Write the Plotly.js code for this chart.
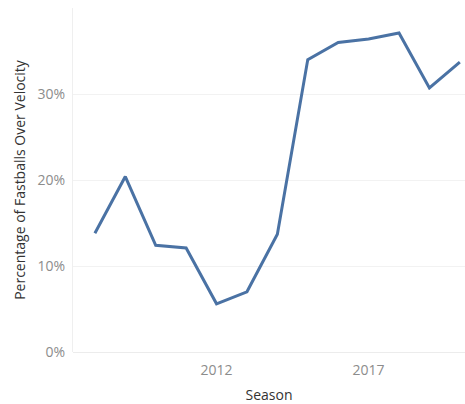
<!DOCTYPE html>
<html>
<head>
<meta charset="utf-8">
<script src="https://cdn.plot.ly/plotly-3.0.1.min.js"></script>
<style>html,body{margin:0;padding:0;background:#fff;}#chart{width:465px;height:404px;}</style>
</head>
<body>
<div id="chart"></div>
<script>
const seasons = [2008, 2009, 2010, 2011, 2012, 2013, 2014, 2015, 2016, 2017, 2018, 2019, 2020];
const pctOverVelocity = [0.138, 0.204, 0.124, 0.121, 0.056, 0.070, 0.137, 0.340, 0.360, 0.364, 0.371, 0.307, 0.337];
const xTickVals = [2012, 2017];
const xTickText = ['2012', '2017'];
const yTickVals = [0, 0.1, 0.2, 0.3];

const trace = {
  x: seasons,
  y: pctOverVelocity,
  type: 'scatter',
  mode: 'lines',
  line: {color: '#4a72a4', width: 3},
  hoverinfo: 'x+y'
};

const layout = {
  width: 465,
  height: 404,
  margin: {l: 73, r: 0, t: 8, b: 52},
  paper_bgcolor: '#ffffff',
  plot_bgcolor: '#ffffff',
  showlegend: false,
  font: {family: 'Open Sans, sans-serif', size: 14, color: '#999999'},
  xaxis: {
    range: [2007.28, 2020.17],
    tickvals: xTickVals,
    ticktext: xTickText,
    showgrid: false,
    zeroline: false,
    showline: false,
    ticks: '',
    ticklabelstandoff: 8,
    tickfont: {size: 14, color: '#8c8c8c'},
    title: {text: 'Season', font: {size: 14, color: '#333333'}, standoff: 14}
  },
  yaxis: {
    range: [0, 0.40],
    tickvals: yTickVals,
    tickformat: '.0%',
    showgrid: true,
    gridcolor: '#f2f2f2',
    gridwidth: 1,
    zeroline: true,
    zerolinecolor: '#ececec',
    showline: true,
    linecolor: '#efefef',
    ticks: '',
    ticklabelstandoff: 4,
    tickfont: {size: 14, color: '#8c8c8c'},
    title: {text: 'Percentage of Fastballs Over Velocity', font: {size: 14, color: '#333333'}, standoff: 8}
  }
};

Plotly.newPlot('chart', [trace], layout, {displayModeBar: false, staticPlot: true});
</script>
</body>
</html>
